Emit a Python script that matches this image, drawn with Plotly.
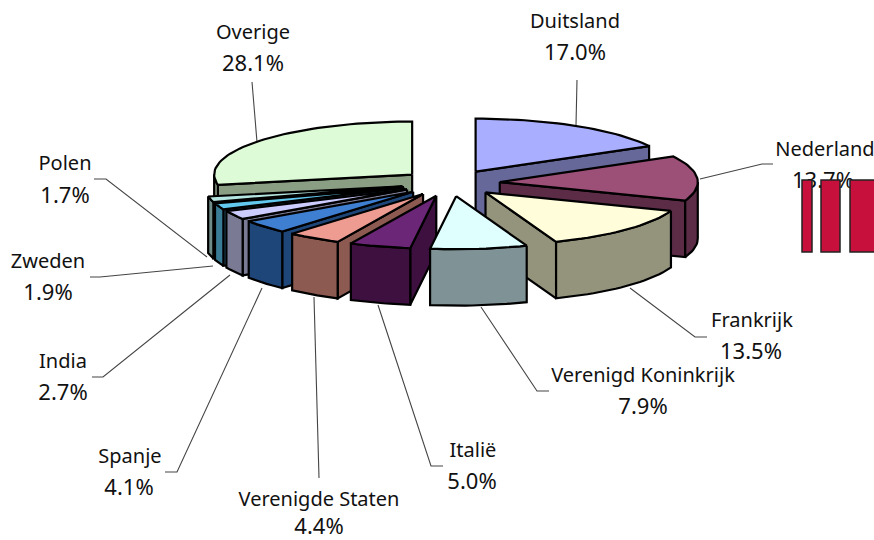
import math
import plotly.graph_objects as go

# ---- data, clockwise from 12 o'clock ----
countries = ["Duitsland", "Nederland", "Frankrijk", "Verenigd Koninkrijk", "Italië",
             "Verenigde Staten", "Spanje", "India", "Zweden", "Polen", "Overige"]
shares = [17.0, 13.7, 13.5, 7.9, 5.0, 4.4, 4.1, 2.7, 1.9, 1.7, 28.1]
top_colors = ["#AAAEFF", "#9C5078", "#FFFDDA", "#DFFFFF", "#6C2678", "#EE9C92",
              "#3F7FD2", "#CCCCFF", "#62C8EE", "#B5E5E0", "#DDFBD6"]
side_colors = ["#666899", "#5C2C47", "#94947C", "#7F9396", "#3E1040", "#8D5A52",
               "#1F4678", "#7A7A94", "#3A7C96", "#6F8C88", "#8A9E84"]
bar_values = [72, 72, 72]
bar_x = [807, 830.5, 864]
bar_widths = [10, 19, 28]

# ---- layout (pixels of the 874x540 page) ----
CX, CY, RX, RY, DEPTH, EXPLODE = 450.4, 183, 198, 53, 56.5, 0.25
OUTLINE = "#000000"
draw_order = [10, 0, 1, 2, 9, 8, 7, 6, 5, 4, 3]
name_pos = [(575, 23), (825, 151), (752, 322), (643, 377), (473, 452), (319, 501),
            (130, 458), (63, 363), (48, 263), (65, 165), (253, 34)]
pct_pos = [(575, 54), (823, 182), (751, 353), (643, 408), (472, 483), (319, 528),
           (129, 489), (63, 394), (48, 294), (65, 197), (253, 65)]
leaders = [
    [(577, 80), (576, 125)],
    [(773, 164), (762, 164), (700, 179)],
    [(707, 337), (695, 337), (630, 288)],
    [(549, 391), (537, 391), (481, 307)],
    [(443, 466), (431, 466), (378, 305)],
    [(319, 478), (314, 297)],
    [(165, 472), (177, 472), (262, 288)],
    [(92, 377), (103, 377), (230, 275)],
    [(90, 277), (100, 277), (213, 266)],
    [(94, 179), (106, 179), (207, 257)],
    [(252, 82), (257, 142)],
]

fig = go.Figure()


def poly(pts, fill, name):
    fig.add_trace(go.Scatter(
        x=[p[0] for p in pts] + [pts[0][0]], y=[p[1] for p in pts] + [pts[0][1]],
        mode="lines", fill="toself", fillcolor=fill, name=name, hoverinfo="name",
        line=dict(color=OUTLINE, width=2.2, shape="linear"), showlegend=False))


total = sum(shares)
bounds = [0.0]
for s in shares:
    bounds.append(bounds[-1] + 360.0 * s / total)

for i in draw_order:
    a0, a1 = bounds[i], bounds[i + 1]
    mid = math.radians((a0 + a1) / 2)
    ax = CX + EXPLODE * RX * math.sin(mid)
    ay = CY - EXPLODE * RY * math.cos(mid)

    def rim(deg):
        t = math.radians(deg)
        return (ax + RX * math.sin(t), ay - RY * math.cos(t))

    def arc(d0, d1):
        n = max(2, int(abs(d1 - d0) / 2) + 1)
        return [rim(d0 + (d1 - d0) * k / (n - 1)) for k in range(n)]

    down = lambda pts: [(x, y + DEPTH) for x, y in pts]
    apex = (ax, ay)
    # flat cut faces that look towards the viewer
    if math.sin(math.radians(a0)) < 0:
        e = rim(a0)
        poly([apex, e] + down([e, apex]), side_colors[i], countries[i])
    if a1 < 180:
        e = rim(a1)
        poly([apex, e] + down([e, apex]), side_colors[i], countries[i])
    # curved outer wall, front half only
    f0, f1 = max(a0, 90), min(a1, 270)
    if f1 > f0:
        r = arc(f0, f1)
        poly(r + down(r)[::-1], side_colors[i], countries[i])
    # top
    poly([apex] + arc(a0, a1), top_colors[i], countries[i])

fig.add_trace(go.Scatter(x=[p[0] for p in name_pos], y=[p[1] for p in name_pos],
                         text=countries, mode="text",
                         textfont=dict(family="Noto Sans", size=20, color="#111111"),
                         textposition="middle center", hoverinfo="skip", showlegend=False,
                         cliponaxis=False))
fig.add_trace(go.Scatter(x=[p[0] for p in pct_pos], y=[p[1] for p in pct_pos],
                         text=[f"{s:.1f}%" for s in shares], mode="text",
                         textfont=dict(family="Noto Sans", size=22, color="#111111"),
                         textposition="middle center", hoverinfo="skip", showlegend=False,
                         cliponaxis=False))

# clipped neighbouring bar chart, above the label text
fig.add_trace(go.Bar(x=bar_x, y=bar_values, width=bar_widths, xaxis="x2", yaxis="y2",
                     marker=dict(color="#C8103C", line=dict(color="#222222", width=1.5)),
                     hoverinfo="skip", showlegend=False))

shapes = [dict(type="path", layer="below",
               path="M " + " L ".join(f"{x},{y}" for x, y in pts),
               line=dict(color="#444444", width=1.1))
          for pts in leaders]

hidden = dict(visible=False, showgrid=False, zeroline=False, fixedrange=True)
fig.update_layout(
    width=874, height=540, margin=dict(l=0, r=0, t=0, b=0),
    paper_bgcolor="white", plot_bgcolor="white", autosize=False,
    shapes=shapes, showlegend=False, barmode="overlay",
    xaxis=dict(range=[0, 874], domain=[0, 1], **hidden),
    yaxis=dict(range=[540, 0], domain=[0, 1], **hidden),
    xaxis2=dict(range=[0, 874], overlaying="x", **hidden),
    yaxis2=dict(range=[-288, 252], overlaying="y", **hidden),
)
fig.write_html("out.html", config=dict(displayModeBar=False),
               post_script="document.body.style.margin='0';document.body.style.overflow='hidden';")
